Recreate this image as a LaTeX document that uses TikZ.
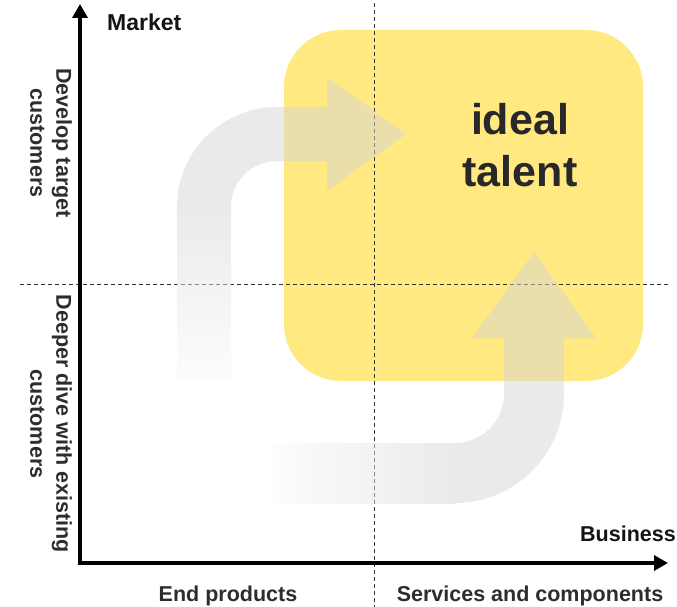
\documentclass[tikz,border=0pt]{standalone}
\usepackage{fontspec}
\setmainfont{Liberation Sans}
\usetikzlibrary{arrows.meta}
\definecolor{ideal}{RGB}{255,233,128}
\definecolor{arrowgray}{RGB}{214,214,214}
\definecolor{fadegray}{RGB}{250,250,250}
\definecolor{txt}{RGB}{40,40,40}
\definecolor{lbl}{RGB}{45,45,45}
\tikzset{
  idealbox/.style={fill=ideal, draw=none},
  guide/.style={draw=black!80, line width=0.8pt, dash pattern=on 4pt off 3pt},
  bigarrow/.style={fill=arrowgray, fill opacity=0.5, draw=none},
  axislabel/.style={font=\bfseries\fontsize{21.5}{26}\selectfont, text=lbl, inner sep=0pt},
  sidelabel/.style={font=\bfseries\fontsize{21.5}{26}\selectfont, text=lbl, inner sep=0pt, align=center, rotate=-90},
  headlabel/.style={font=\bfseries\fontsize{21.5}{26}\selectfont, text=black!92, inner sep=0pt},
}
\begin{document}
\begin{tikzpicture}[x=1pt, y=-1pt]
\useasboundingbox (0,0) rectangle (677,607);
% yellow box
\path[idealbox, rounded corners=57pt] (284,30) rectangle (643,381);
% dashed guides
\coordinate (vtop) at (374,3);
\coordinate (vbot) at (374,607);
\coordinate (hl) at (20,284);
\coordinate (hr) at (671,284);
\draw[guide] (vtop) -- (vbot);
\draw[guide] (hl) -- (hr);
% upper arrow
\shade[top color=arrowgray, bottom color=fadegray, fill opacity=0.5] (177,207) rectangle (231,378);
\path[bigarrow] (177,207) arc[start angle=180, end angle=270, radius=100]
  -- (327,107) -- (327,77) -- (406,134) -- (327,191) -- (327,161) -- (277,161)
  arc[start angle=270, end angle=180, radius=46] -- cycle;
% lower arrow
\shade[left color=fadegray, right color=arrowgray, fill opacity=0.5] (273,443) rectangle (455,503);
\path[bigarrow] (455,503) arc[start angle=90, end angle=0, radius=109]
  -- (564,338) -- (596,338) -- (534,252) -- (472,338) -- (504,338) -- (504,394)
  arc[start angle=0, end angle=90, radius=49] -- cycle;
% axes
\coordinate (O) at (80,563);
\coordinate (ytip) at (80,4);
\coordinate (xtip) at (668,563);
\draw[line width=4pt, {Triangle[length=14pt,width=15pt]}-{Triangle[length=14pt,width=15pt]}] (ytip) -- (O) -- (xtip);
% labels
\node[headlabel, font=\bfseries\fontsize{23}{27}\selectfont, anchor=base west] (market) at (107,31) {Market};
\node[headlabel, anchor=base east] (business) at (676,541) {Business};
\node[axislabel, anchor=base] (endp) at (228,601) {End products};
\node[axislabel, anchor=base] (serv) at (530,601) {Services and components};
\node[sidelabel] (develop) at (51,143) {Develop target\\customers};
\node[sidelabel] (deeper) at (51,424) {Deeper dive with existing\\customers};
\node[font=\bfseries\fontsize{43}{52}\selectfont, text=txt, align=center, inner sep=0pt] (talent) at (520,145) {ideal\\talent};
\end{tikzpicture}
\end{document}
